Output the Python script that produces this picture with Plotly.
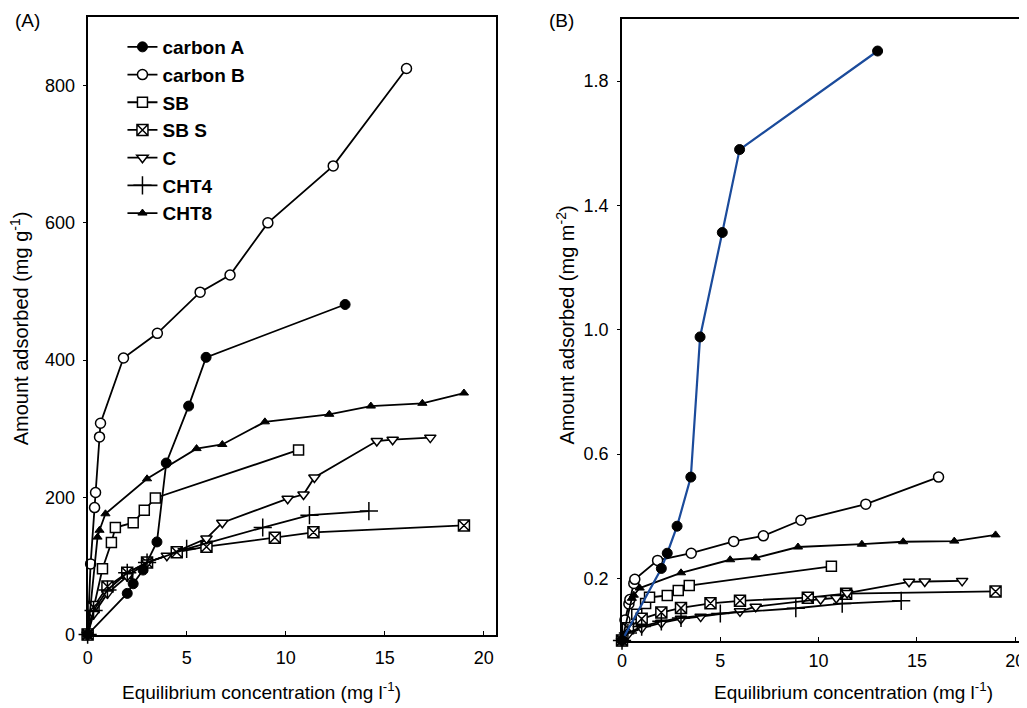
import plotly.graph_objects as go

# ---------------- Panel A data (mg g-1) ----------------
carbonA_x = [0, 2.0, 2.3, 2.8, 3.5, 3.97, 5.1, 5.98, 13.0]
carbonA_yA = [0, 60, 74, 94, 135, 250, 333, 404, 481]
carbonB_x = [0, 0.15, 0.35, 0.4, 0.6, 0.65, 1.81, 3.52, 5.68, 7.19, 9.1, 12.4, 16.1]
carbonB_yA = [0, 103, 185, 207, 288, 308, 403, 439, 499, 524, 600, 683, 825]
SB_x = [0, 0.75, 1.2, 1.4, 2.3, 2.86, 3.42, 10.65]
SB_yA = [0, 96, 134, 156, 163, 181, 199, 269]
SBS_x = [0, 0.3, 1.0, 2.0, 3.0, 4.5, 6.0, 9.45, 11.4, 19.0]
SBS_yA = [0, 40, 70, 90, 105, 120, 128, 141, 149, 159]
C_x = [0, 0.3, 1.0, 2.0, 3.0, 4.0, 6.0, 6.8, 10.1, 10.9, 11.45, 14.6, 15.4, 17.3]
C_yA = [0, 30, 60, 85, 105, 115, 140, 163, 198, 204, 229, 282, 284, 287]
CHT4_x = [0, 0.3, 1.0, 2.0, 3.0, 5.0, 8.84, 11.2, 14.2]
CHT4_yA = [0, 35, 65, 90, 105, 125, 156, 174, 180]
CHT8_x = [0, 0.5, 0.6, 0.9, 3.0, 5.5, 6.8, 8.95, 12.2, 14.3, 16.9, 19.0]
CHT8_yA = [0, 142, 152, 176, 227, 271, 277, 310, 321, 333, 337, 352]

# ---------------- Panel B data (mg m-2) ----------------
carbonA_yB = [0, 0.232, 0.281, 0.368, 0.526, 0.977, 1.313, 1.58, 1.897]
carbonB_yB = [0, 0.066, 0.118, 0.132, 0.184, 0.197, 0.258, 0.281, 0.319, 0.337, 0.387, 0.439, 0.526]
SB_yB = [0, 0.085, 0.119, 0.139, 0.145, 0.161, 0.177, 0.239]
SBS_yB = [0, 0.040, 0.070, 0.090, 0.105, 0.120, 0.128, 0.138, 0.151, 0.158]
C_yB = [0, 0.020, 0.040, 0.057, 0.070, 0.077, 0.094, 0.109, 0.133, 0.137, 0.153, 0.189, 0.190, 0.192]
CHT4_yB = [0, 0.024, 0.045, 0.062, 0.073, 0.087, 0.104, 0.119, 0.128]
CHT8_yB = [0, 0.136, 0.146, 0.169, 0.218, 0.260, 0.266, 0.301, 0.310, 0.318, 0.320, 0.340]

names = ["carbon A", "carbon B", "SB", "SB S", "C", "CHT4", "CHT8"]

W, H = 1027, 708
FONT = "Liberation Sans, Arial, sans-serif"
BLK = "black"
LW = 1.8


def px(x):
    """target pixel x -> paper fraction (with page-offset correction)"""
    return (x - 10) / W


def py(y):
    """target pixel y (from top) -> paper fraction (with page-offset correction)"""
    return 1 - ((y - 8) / 0.985) / H


def style(name):
    if name == "carbon A":
        return dict(symbol="circle", size=10, color=BLK, line=dict(color=BLK, width=1))
    if name == "carbon B":
        return dict(symbol="circle", size=10, color="white", line=dict(color=BLK, width=1.5))
    if name == "SB":
        return dict(symbol="square", size=10, color="white", line=dict(color=BLK, width=1.5))
    if name == "SB S":
        return dict(symbol="square-x", size=11, color="white", line=dict(color=BLK, width=1.5))
    if name == "C":
        return dict(symbol="triangle-down", size=10, color="white", line=dict(color=BLK, width=1.5))
    if name == "CHT4":
        return dict(symbol="cross-thin", size=13, color=BLK, line=dict(color=BLK, width=1.5))
    return dict(symbol="triangle-up", size=8, color=BLK, line=dict(color=BLK, width=1))


dataA = {
    "carbon A": (carbonA_x, carbonA_yA), "carbon B": (carbonB_x, carbonB_yA),
    "SB": (SB_x, SB_yA), "SB S": (SBS_x, SBS_yA), "C": (C_x, C_yA),
    "CHT4": (CHT4_x, CHT4_yA), "CHT8": (CHT8_x, CHT8_yA),
}
dataB = {
    "carbon A": (carbonA_x, carbonA_yB), "carbon B": (carbonB_x, carbonB_yB),
    "SB": (SB_x, SB_yB), "SB S": (SBS_x, SBS_yB), "C": (C_x, C_yB),
    "CHT4": (CHT4_x, CHT4_yB), "CHT8": (CHT8_x, CHT8_yB),
}

fig = go.Figure()
draw_order = ["carbon B", "SB", "SB S", "C", "CHT4", "CHT8", "carbon A"]
for nm in draw_order:
    x, y = dataA[nm]
    fig.add_trace(go.Scatter(x=x, y=y, name=nm, mode="lines+markers",
                             line=dict(color=BLK, width=LW), marker=style(nm),
                             cliponaxis=False, legendrank=names.index(nm) + 1,
                             xaxis="x", yaxis="y"))
for nm in draw_order:
    x, y = dataB[nm]
    lc = "#1b4b9b" if nm == "carbon A" else BLK
    fig.add_trace(go.Scatter(x=x, y=y, name=nm, mode="lines+markers", showlegend=False,
                             line=dict(color=lc, width=LW + (0.4 if nm == "carbon A" else 0)),
                             marker=style(nm), cliponaxis=False,
                             xaxis="x2", yaxis="y2"))

axis_common = dict(showgrid=False, zeroline=False, showline=True, linecolor=BLK,
                   linewidth=2, tickcolor=BLK, tickfont=dict(family=FONT, size=18, color=BLK))

fig.update_layout(
    width=W, height=H,
    margin=dict(l=0, r=0, t=0, b=0),
    paper_bgcolor="white", plot_bgcolor="white",
    font=dict(family=FONT, color=BLK),
    xaxis=dict(domain=[px(85), px(495)], range=[0, 20.6], tickvals=[0, 5, 10, 15, 20],
               ticks="inside", ticklen=4, ticklabelstandoff=6, mirror=True, anchor="y",
               **axis_common),
    yaxis=dict(domain=[py(634), py(17)], range=[0, 900], tickvals=[0, 200, 400, 600, 800],
               ticks="outside", ticklen=3, ticklabelstandoff=4, mirror=True, anchor="x",
               **axis_common),
    xaxis2=dict(domain=[px(622), 1.0], range=[0, 20.5 * (1027 - px(622) * W) / (1027 - 622)],
                tickvals=[0, 5, 10, 15, 20],
                ticks="inside", ticklen=4, ticklabelstandoff=3, mirror=True, anchor="y2",
                **axis_common),
    yaxis2=dict(domain=[py(640), py(19)], range=[0, 2.0], tickvals=[0.2, 0.6, 1.0, 1.4, 1.8],
                tickformat=".1f", ticks="outside", ticklen=3, ticklabelstandoff=5,
                mirror=False, anchor="x2", **axis_common),
    legend=dict(x=px(120), y=py(28), xanchor="left", yanchor="top",
                bgcolor="rgba(0,0,0,0)", itemwidth=30, tracegroupgap=0,
                font=dict(family=FONT, size=19, color=BLK, weight="bold")),
    showlegend=True,
)

annots = [
    dict(text="(A)", x=px(10), y=py(20), xanchor="left", size=19),
    dict(text="(B)", x=px(547), y=py(20), xanchor="left", size=19),
    dict(text="Equilibrium concentration (mg l<sup>-1</sup>)", x=px(260), y=py(690),
         xanchor="center", size=19),
    dict(text="Equilibrium concentration (mg l<sup>-1</sup>)", x=px(855), y=py(690),
         xanchor="center", size=19),
]
for a in annots:
    fig.add_annotation(text=a["text"], x=a["x"], y=a["y"], xref="paper", yref="paper",
                       xanchor=a["xanchor"], yanchor="middle", showarrow=False,
                       font=dict(family=FONT, size=a["size"], color=BLK))
fig.add_annotation(text="Amount adsorbed (mg g<sup>-1</sup>)", x=px(16), y=py(328),
                   xref="paper", yref="paper", textangle=-90, showarrow=False,
                   xanchor="center", yanchor="middle", font=dict(family=FONT, size=20, color=BLK))
fig.add_annotation(text="Amount adsorbed (mg m<sup>-2</sup>)", x=px(565), y=py(325),
                   xref="paper", yref="paper", textangle=-90, showarrow=False,
                   xanchor="center", yanchor="middle", font=dict(family=FONT, size=20, color=BLK))

fig.write_html("out.html")
